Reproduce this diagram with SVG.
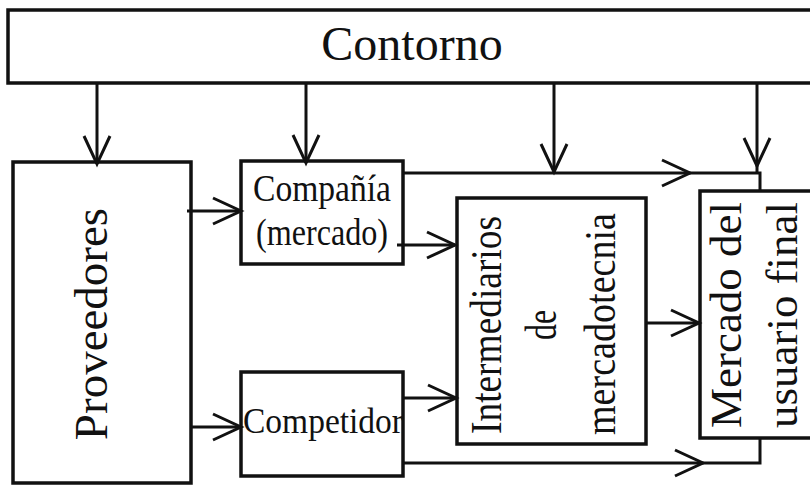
<svg xmlns="http://www.w3.org/2000/svg" width="810" height="485" viewBox="0 0 810 485">
<defs>
<marker id="ah" markerUnits="userSpaceOnUse" markerWidth="40" markerHeight="40" viewBox="-35 -20 40 40" refX="0" refY="0" orient="auto" overflow="visible">
<path d="M-28,-13 L0,0 L-28,13" fill="none" stroke="#111" stroke-width="3"/>
</marker>
<style>
.box{fill:#fff;stroke:#111;stroke-width:3.5}
.ln{fill:none;stroke:#111;stroke-width:3}
text{font-family:'Liberation Serif','Times New Roman','DejaVu Serif',serif;fill:#111;text-anchor:middle}
</style>
</defs>
<rect width="810" height="485" fill="#fff"/>
<g id="contorno">
<rect class="box" x="8" y="10" width="830" height="73"/>
<text x="412" y="60" font-size="48" font-family="Liberation Serif, serif">Contorno</text>
</g>
<g id="proveedores">
<rect class="box" x="13" y="162" width="178" height="321"/>
<text font-size="47" transform="translate(107,324) rotate(-90)">Proveedores</text>
</g>
<g id="compania">
<rect class="box" x="241" y="161" width="162" height="103"/>
<text x="322" y="201" font-size="38" textLength="138" lengthAdjust="spacingAndGlyphs">Compañía</text>
<text x="322" y="245" font-size="38" textLength="132" lengthAdjust="spacingAndGlyphs">(mercado)</text>
</g>
<g id="competidor">
<rect class="box" x="241" y="372" width="162" height="104"/>
<text x="323" y="433" font-size="36" textLength="160" lengthAdjust="spacingAndGlyphs">Competidor</text>
</g>
<g id="intermediarios">
<rect class="box" x="457" y="198" width="189" height="246"/>
<text font-size="44" textLength="218" lengthAdjust="spacingAndGlyphs" transform="translate(501,325) rotate(-90)">Intermediarios</text>
<text font-size="44" textLength="30" lengthAdjust="spacingAndGlyphs" transform="translate(556,325) rotate(-90)">de</text>
<text font-size="44" textLength="222" lengthAdjust="spacingAndGlyphs" transform="translate(615,324) rotate(-90)">mercadotecnia</text>
</g>
<g id="mercado">
<rect class="box" x="700" y="191" width="130" height="247"/>
<text font-size="45" textLength="226" lengthAdjust="spacingAndGlyphs" transform="translate(741,315) rotate(-90)">Mercado del</text>
<text font-size="45" textLength="226" lengthAdjust="spacingAndGlyphs" transform="translate(797,315) rotate(-90)">usuario final</text>
</g>
<g id="connectors">
<path class="ln" d="M97,83 V164" marker-end="url(#ah)"/>
<path class="ln" d="M306,83 V163" marker-end="url(#ah)"/>
<path class="ln" d="M554,83 V172" marker-end="url(#ah)"/>
<path class="ln" d="M757,83 V166" marker-end="url(#ah)"/>
<path class="ln" d="M757,166 V173"/>
<path class="ln" d="M187,211 H241" marker-end="url(#ah)"/>
<path class="ln" d="M190,427 H241" marker-end="url(#ah)"/>
<path class="ln" d="M403,173 H690" marker-end="url(#ah)"/>
<path class="ln" d="M690,173 H760 V191"/>
<path class="ln" d="M397,245 H455" marker-end="url(#ah)"/>
<path class="ln" d="M403,398 H456" marker-end="url(#ah)"/>
<path class="ln" d="M403,463 H703" marker-end="url(#ah)"/>
<path class="ln" d="M703,463 H760 V438"/>
<path class="ln" d="M646,323 H699" marker-end="url(#ah)"/>
</g>
</svg>
